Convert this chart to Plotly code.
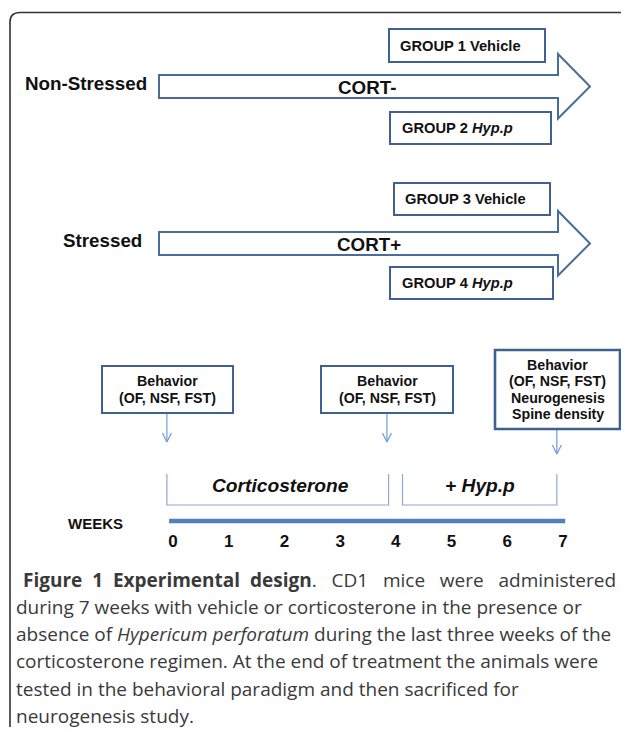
import plotly.graph_objects as go

# ---------------- data ----------------
conditions = ["Non-Stressed", "Stressed"]
treatments = ["CORT-", "CORT+"]
groups_top = ["GROUP 1 Vehicle", "GROUP 3 Vehicle"]
groups_bottom = ["GROUP 2 <i>Hyp.p</i>", "GROUP 4 <i>Hyp.p</i>"]

weeks = [0, 1, 2, 3, 4, 5, 6, 7]
week_labels = ["0", "1", "2", "3", "4", "5", "6", "7"]
timeline_span = [-0.07, 7.04]

behavior_weeks = [-0.11, 3.84, 6.89]
behavior_texts = [
    ["Behavior", "(OF, NSF, FST)"],
    ["Behavior", "(OF, NSF, FST)"],
    ["Behavior", "(OF, NSF, FST)", "Neurogenesis", "Spine density"],
]
phase_labels = ["Corticosterone", "+ Hyp.p"]
phase_start = [-0.11, 4.12]
phase_end = [3.87, 6.89]

# first caption line is justified: kept as words
caption_first_words = ["<b>Figure", "1", "Experimental", "design</b>.",
                       "CD1", "mice", "were", "administered"]
caption_lines = [
    "during 7 weeks with vehicle or corticosterone in the presence or",
    "absence of <i>Hypericum perforatum</i> during the last three weeks of the",
    "corticosterone regimen. At the end of treatment the animals were",
    "tested in the behavioral paradigm and then sacrificed for",
    "neurogenesis study.",
]

# ---------------- layout constants ----------------
W, H = 629, 730          # window size
OFF = 8                  # default page margin of the html body
WEEK0_PX, WEEK_STEP_PX = 173.0, 55.71
FONT = "Liberation Sans, Arial, sans-serif"
CAP_FONT = "Open Sans, sans-serif"
BOX_COL = "#3f618f"
ARROW_COL = "#4a6c9b"
THIN_COL = "#6f9bd3"
BRACKET_COL = "#8fa9cc"
TL_COL = "#4f81bd"
CAP_COL = "#3a3a3a"

fig = go.Figure()
shapes = []
ann = []

def text(x, y, s, size, xref="x2", xanchor="center", color="#111", family=FONT):
    ann.append(dict(x=x, y=y, xref=xref, yref="y", text=s, showarrow=False,
                    xanchor=xanchor, yanchor="middle",
                    font=dict(family=family, size=size, color=color)))

def rect(x0, y0, x1, y1, col, lw):
    shapes.append(dict(type="rect", xref="x2", yref="y", x0=x0, y0=y0, x1=x1, y1=y1,
                       line=dict(color=col, width=lw), fillcolor="white", layer="above"))

# frame
shapes.append(dict(type="path", xref="x2", yref="y",
                   path="M 10,727 L 10,22 Q 10,12.5 20,12.5 L 622,12.5 Q 627,12.5 629,17",
                   line=dict(color="#333333", width=1.6)))

# ---------------- upper part: treatment arrows ----------------
arrow_cy = [86.5, 243.5]
label_x = [86, 102]
cort_x = [367, 369]
top_box = [(389, 29, 545, 62), (394, 183, 550, 215)]
bot_box = [(390, 112, 551, 144), (390, 267, 553, 299)]
for i in range(2):
    cy = arrow_cy[i]
    x0, xs, xt = 159, 558, 590
    p = (f"M {x0},{cy-11.5} L {xs},{cy-11.5} L {xs},{cy-32.5} L {xt},{cy} "
         f"L {xs},{cy+32} L {xs},{cy+11.5} L {x0},{cy+11.5} Z")
    shapes.append(dict(type="path", xref="x2", yref="y", path=p,
                       line=dict(color=ARROW_COL, width=2), fillcolor="white"))
    text(label_x[i], cy - 3, f"<b>{conditions[i]}</b>", 18.8)
    text(cort_x[i], cy + 1, f"<b>{treatments[i]}</b>", 18.8)
    bx = top_box[i]
    rect(*bx, BOX_COL, 2)
    text(bx[0] + 9, (bx[1] + bx[3]) / 2, f"<b>{groups_top[i]}</b>", 14.7, xanchor="left")
    bx = bot_box[i]
    rect(*bx, BOX_COL, 2)
    text(bx[0] + 10, (bx[1] + bx[3]) / 2, f"<b>{groups_bottom[i]}</b>", 14.7, xanchor="left")

# ---------------- lower part: timeline ----------------
beh_box = [(102, 366, 233, 413), (321, 366, 453, 413), (495, 350, 620, 429)]
beh_lw = [2, 2, 2.6]
arrow_tip_y = [442, 442, 454]
for i, wk in enumerate(behavior_weeks):
    bx = beh_box[i]
    fig.add_trace(go.Scatter(x=[wk, wk], y=[bx[3], arrow_tip_y[i]], mode="lines",
                             line=dict(color=THIN_COL, width=1.2), hoverinfo="skip",
                             showlegend=False))
    dh = 4.5 / WEEK_STEP_PX
    fig.add_trace(go.Scatter(x=[wk - dh, wk, wk + dh],
                             y=[arrow_tip_y[i] - 9, arrow_tip_y[i], arrow_tip_y[i] - 9],
                             mode="lines", line=dict(color=THIN_COL, width=1.2),
                             hoverinfo="skip", showlegend=False))
    rect(*bx, BOX_COL, beh_lw[i])
    lines = behavior_texts[i]
    n = len(lines)
    cyb = (bx[1] + bx[3]) / 2
    for j, s in enumerate(lines):
        text((bx[0] + bx[2]) / 2, cyb + (j - (n - 1) / 2) * 16.3, f"<b>{s}</b>", 14.2)

# phase brackets
for i in range(2):
    fig.add_trace(go.Scatter(x=[phase_start[i], phase_start[i], phase_end[i], phase_end[i]],
                             y=[474, 505, 505, 474], mode="lines",
                             line=dict(color=BRACKET_COL, width=1.2),
                             hoverinfo="skip", showlegend=False))
    text((phase_start[i] + phase_end[i]) / 2 + (0.05 if i == 0 else 0.0), 485,
         f"<b><i>{phase_labels[i]}</i></b>", 19.2, xref="x")

# timeline bar
fig.add_trace(go.Scatter(x=timeline_span, y=[521, 521], mode="lines",
                         line=dict(color=TL_COL, width=4.5), hoverinfo="skip",
                         showlegend=False))
fig.add_trace(go.Scatter(x=weeks, y=[543] * len(weeks), mode="text",
                         text=[f"<b>{t}</b>" for t in week_labels],
                         textfont=dict(family=FONT, size=17, color="#111"),
                         hoverinfo="skip", showlegend=False))
text(95, 523, "<b>WEEKS</b>", 15)

# dummy trace on pixel axis
fig.add_trace(go.Scatter(x=[OFF + 1], y=[OFF + 1], xaxis="x2", yaxis="y", mode="markers",
                         marker=dict(opacity=0), hoverinfo="skip", showlegend=False))

# ---------------- caption ----------------
cap_y0, cap_dy = 579.5, 27.3
gap_extra = [1, 1, 1, 2, 2, 2, 2]     # justified spacing of first line
NB = "\u00a0"
first_line = caption_first_words[0]
for g, wtxt in zip(gap_extra, caption_first_words[1:]):
    first_line += " " + NB * g + wtxt
text(21, cap_y0, first_line, 19, xanchor="left", color=CAP_COL, family=CAP_FONT)
for k, line in enumerate(caption_lines):
    text(14, cap_y0 + (k + 1) * cap_dy, line, 19, xanchor="left",
         color=CAP_COL, family=CAP_FONT)

# the page has an 8px body margin: the plot covers window pixels OFF..W, OFF..H
week_lo = (OFF - WEEK0_PX) / WEEK_STEP_PX
week_hi = (W - WEEK0_PX) / WEEK_STEP_PX
fig.update_layout(
    width=W - OFF, height=H - OFF, margin=dict(l=0, r=0, t=0, b=0),
    paper_bgcolor="white", plot_bgcolor="white",
    xaxis=dict(range=[week_lo, week_hi], visible=False, fixedrange=True),
    xaxis2=dict(range=[OFF, W], visible=False, overlaying="x", fixedrange=True),
    yaxis=dict(range=[H, OFF], visible=False, fixedrange=True),
    shapes=shapes, annotations=ann, showlegend=False,
)
fig.write_html("out.html")
